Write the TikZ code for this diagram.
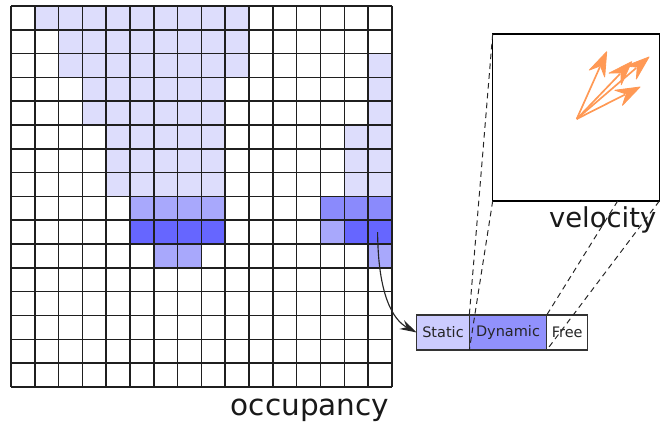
\documentclass[tikz,border=0pt]{standalone}
\usepackage{fontspec}
\setmainfont{DejaVu Sans}
\usetikzlibrary{positioning,arrows.meta,calc}

\definecolor{occlight}{RGB}{221,221,252}
\definecolor{occmid}{RGB}{168,168,252}
\definecolor{occmiddark}{RGB}{138,138,252}
\definecolor{occdark}{RGB}{102,102,255}
\definecolor{staticfill}{RGB}{204,204,254}
\definecolor{dynfill}{RGB}{145,145,252}
\definecolor{velorange}{RGB}{255,153,85}

\tikzset{
  gridline/.style={line width=1.1pt, black!88},
  segbox/.style={draw=black!80, line width=1pt, minimum height=0.875cm,
    inner sep=0pt, outer sep=0pt, text=black!85, font=\fontsize{10.3}{12}\selectfont},
  zoomline/.style={dash pattern=on 4pt off 3pt, line width=0.7pt, black!85},
  velhead/.style={fill=velorange, draw=velorange, line width=0.6pt, line join=round},
  biglabel/.style={inner sep=0pt, text=black!90}
}

\begin{document}
\begin{tikzpicture}[x=0.025cm, y=-0.025cm]
    \useasboundingbox (0,0) rectangle (664,426);
    % occupancy grid, 16 x 16 cells
    \begin{scope}[shift={(11,6)}, x=0.595cm, y=-0.595cm]
        \foreach \r/\a/\b in {0/1/9, 1/2/9, 2/2/9, 3/3/8, 4/3/8, 5/4/8, 6/4/8, 7/4/8}
            \foreach \c in {\a,...,\b}
                \fill[occlight] (\c,\r) rectangle ++(1,1);
        \foreach \c/\r in {15/2, 15/3, 15/4, 14/5, 15/5, 14/6, 15/6, 14/7, 15/7}
            \fill[occlight] (\c,\r) rectangle ++(1,1);
        \foreach \c/\r in {5/8, 6/8, 7/8, 8/8, 13/9, 6/10, 7/10, 15/10}
            \fill[occmid] (\c,\r) rectangle ++(1,1);
        \foreach \c/\r in {13/8, 14/8, 15/8}
            \fill[occmiddark] (\c,\r) rectangle ++(1,1);
        \foreach \c/\r in {5/9, 6/9, 7/9, 8/9, 14/9, 15/9}
            \fill[occdark] (\c,\r) rectangle ++(1,1);
        \foreach \i in {0,...,16} {
            \draw[gridline] (\i,0) -- (\i,16);
            \draw[gridline] (0,\i) -- (16,\i);
        }
        \coordinate (src) at (15.4,9.5);
    \end{scope}
    \node[biglabel, font=\fontsize{21}{25}\selectfont] (occlabel) at (310,410.5) {occupancy};

    % cell content
    \node[segbox, fill=staticfill, minimum width=1.315cm] (static) at (443,332.5) {Static};
    \node[segbox, fill=dynfill, minimum width=1.935cm, right=0pt of static] (dynamic) {Dynamic};
    \node[segbox, fill=white, minimum width=1.025cm, right=0pt of dynamic] (free) {Free};
    \draw[line width=0.8pt, black!85, -{Stealth[length=12pt,width=7pt]}]
        (src) .. controls (378,295) and (393,320) .. (static.west);

    % velocity box
    \node[draw, line width=1pt, minimum width=4.165cm, minimum height=4.175cm,
        inner sep=0pt, outer sep=0pt] (velbox) at (576,117.5) {};
    \node[biglabel, font=\fontsize{19.5}{23}\selectfont] (vellabel) at (602.7,220) {velocity};
    \coordinate (vorigin) at (576.7,119);
    % velocity samples, heads drawn as kites along each shaft
    \foreach \tx/\ty in {606.7/51.7, 631.7/61.7, 649/57, 640/87} {
        \coordinate (vtip) at (\tx,\ty);
        \draw[velorange, line width=1.2pt] (vorigin) -- ($(vtip)!12pt!(vorigin)$);
        \path[velhead] (vtip)
            -- ($(vtip)!17pt!(vorigin)!6pt!90:(vorigin)$)
            -- ($(vtip)!11pt!(vorigin)$)
            -- ($(vtip)!17pt!(vorigin)!6pt!-90:(vorigin)$) -- cycle;
    }

    % zoom lines
    \coordinate (velcut) at ($(velbox.south west)!0.75!(velbox.south east)$);
    \draw[zoomline] (velbox.north west) -- (dynamic.north west);
    \draw[zoomline] (velbox.south west) -- (dynamic.south west);
    \draw[zoomline] (velcut) -- (dynamic.north east);
    \draw[zoomline] (velbox.south east) -- (dynamic.south east);
\end{tikzpicture}
\end{document}
